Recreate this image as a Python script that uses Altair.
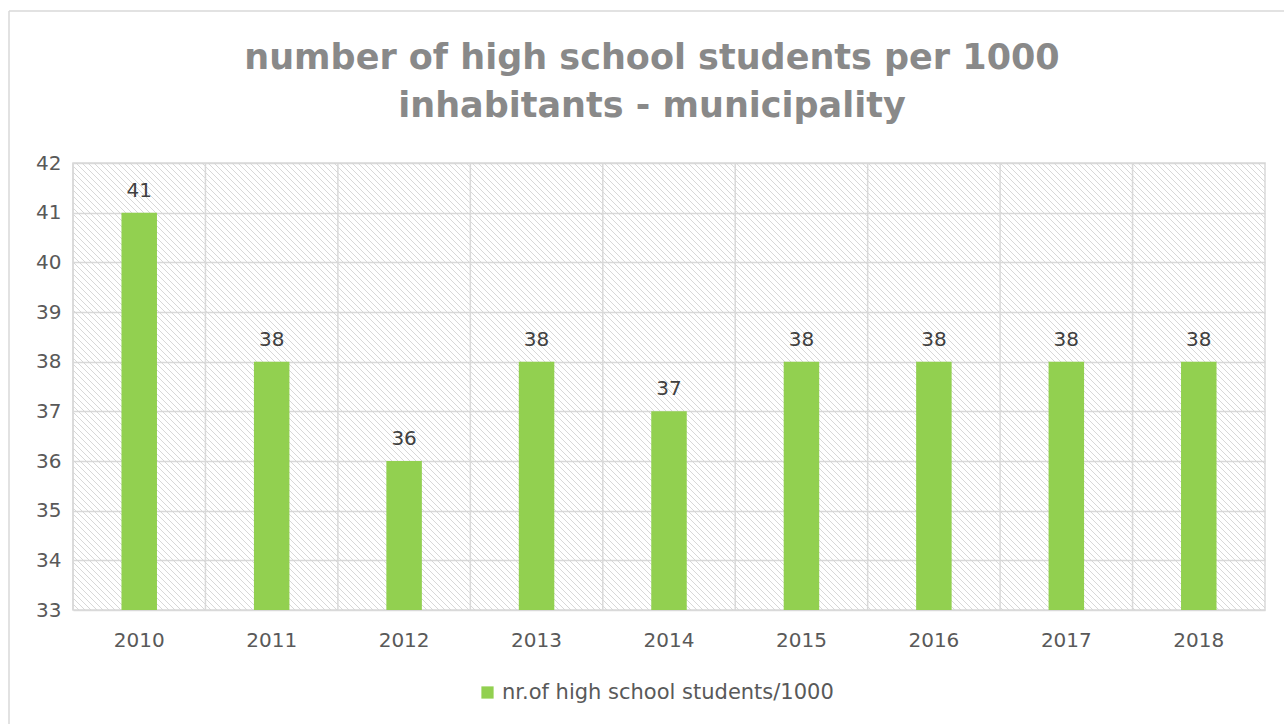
import altair as alt
import pandas as pd

years = ["2010", "2011", "2012", "2013", "2014", "2015", "2016", "2017", "2018"]
values = [41, 38, 36, 38, 37, 38, 38, 38, 38]
series_name = "nr.of high school students/1000"
title_lines = ["number of high school students per 1000", "inhabitants - municipality"]
y_ticks = [33, 34, 35, 36, 37, 38, 39, 40, 41, 42]

W, H = 1192, 447
FONT = "DejaVu Sans"
GREEN = "#92D050"
GRID = "#d9d9d9"

df = pd.DataFrame({"year": years, "value": values, "series": [series_name] * len(years)})

# decorative hatch pattern for the plot background
step = 6
hx = list(range(-H, W + step, step))
hatch_df = pd.DataFrame({"x0": hx, "x1": [v + H for v in hx], "y0": [H] * len(hx), "y1": [0] * len(hx)})

hatch = alt.Chart(hatch_df).mark_rule(color="#d4d4d4", strokeWidth=0.9, clip=True).encode(
    x=alt.X("x0:Q", scale=alt.Scale(domain=[0, W], nice=False, zero=False), axis=None),
    x2="x1:Q",
    y=alt.Y("y0:Q", scale=alt.Scale(domain=[0, H], nice=False, zero=False), axis=None),
    y2="y1:Q",
)

xaxis = alt.Axis(labelFont=FONT, labelFontSize=20, labelColor="#595959",
                 labelPadding=20, ticks=False, domain=False, labelAngle=0,
                 bandPosition=0.5, labelAlign="center", grid=False)
xscale = alt.Scale(paddingInner=0, paddingOuter=0)
yscale = alt.Scale(domain=[33, 42], nice=False, zero=False)

base = alt.Chart(df)

vgrid = base.mark_rule(color=GRID, strokeWidth=1.5).encode(
    x=alt.X("year:N", sort=years, bandPosition=0, title=None, scale=xscale, axis=xaxis),
)

bars = base.mark_bar(color=GREEN, width=alt.RelativeBandSize(0.268), clip=True).encode(
    x=alt.X("year:N", title=None, sort=years, scale=xscale, axis=xaxis),
    y=alt.Y("value:Q", scale=yscale, title=None,
            axis=alt.Axis(values=y_ticks, grid=True, gridColor=GRID, gridWidth=1.5,
                          labelFont=FONT, labelFontSize=20, labelColor="#595959",
                          labelPadding=12, ticks=False, domain=False)),
    y2=alt.datum(33),
    color=alt.Color("series:N", scale=alt.Scale(range=[GREEN]),
                    legend=alt.Legend(orient="none", legendX=404, legendY=519, title=None,
                                      symbolType="square", symbolSize=150, symbolStrokeWidth=0,
                                      labelFont=FONT, labelFontSize=21, labelColor="#595959",
                                      padding=0, labelOffset=4, labelLimit=1000)),
)

labels = base.mark_text(font=FONT, fontSize=20, color="#404040", baseline="alphabetic", dy=-16).encode(
    x=alt.X("year:N", sort=years, title=None, scale=xscale, axis=xaxis),
    y=alt.Y("value:Q", scale=yscale),
    text="value:Q",
)

title = alt.Chart(pd.DataFrame({"t": [0]})).mark_text(
    text=title_lines, font=FONT, fontSize=35, fontWeight="bold", color="#898989",
    align="center", baseline="alphabetic", lineHeight=48,
).encode(x=alt.value(579), y=alt.value(-94))

border = alt.Chart(pd.DataFrame({"t": [0]})).mark_rule(color=GRID, strokeWidth=1.5).encode(
    x=alt.value(-64), x2=alt.value(1300), y=alt.value(-152))
border_left = alt.Chart(pd.DataFrame({"t": [0]})).mark_rule(color=GRID, strokeWidth=1.5).encode(
    x=alt.value(-64), y=alt.value(-152), y2=alt.value(700))

main = alt.layer(bars, vgrid, labels, title, border, border_left)

chart = alt.layer(hatch, main).resolve_scale(x="independent", y="independent").properties(
    width=W, height=H,
    padding={"left": 73, "top": 163, "right": 19, "bottom": 114},
    autosize=alt.AutoSizeParams(type="none"),
    background="white",
).configure_view(stroke=GRID, strokeWidth=1.5)

chart.save("out.html", embed_options={"renderer": "svg", "actions": False})
